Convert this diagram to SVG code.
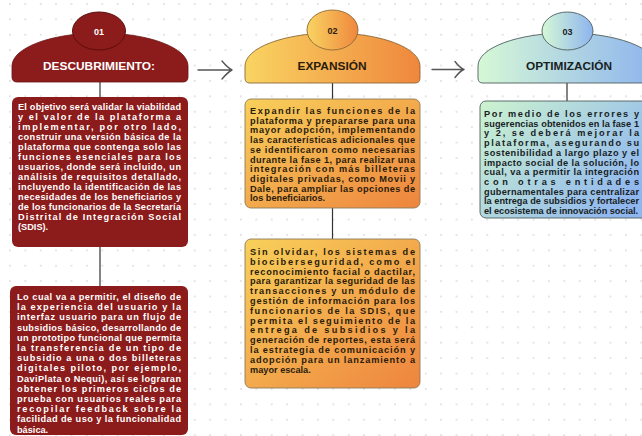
<svg xmlns="http://www.w3.org/2000/svg" width="642" height="436" viewBox="0 0 642 436">
<defs>
<pattern id="dots" x="9" y="3" width="15.4" height="15.4" patternUnits="userSpaceOnUse">
<circle cx="0.9" cy="0.9" r="0.9" fill="#d6d6d6"/>
</pattern>
<linearGradient id="gOr" x1="0" y1="0" x2="1" y2="0">
<stop offset="0" stop-color="#f9d462"/>
<stop offset="1" stop-color="#ef873d"/>
</linearGradient>
<linearGradient id="gOrBox" x1="0" y1="0" x2="1" y2="1">
<stop offset="0" stop-color="#f8d05a"/>
<stop offset="1" stop-color="#ee843e"/>
</linearGradient>
<linearGradient id="gBl" x1="0" y1="0" x2="1" y2="0">
<stop offset="0" stop-color="#d6f8d6"/>
<stop offset="1" stop-color="#8db4ee"/>
</linearGradient>
<linearGradient id="gBlBox" x1="0" y1="0" x2="1" y2="0.6">
<stop offset="0" stop-color="#cdf3cf"/>
<stop offset="1" stop-color="#8fb6ef"/>
</linearGradient>
</defs>
<style>
.t{font-family:"Liberation Sans",Arial,sans-serif;font-weight:bold;font-size:9.2px}
.w{fill:#ffffff}
.d{fill:#2a1c0c}
.g{fill:#18221f}
.h{font-family:"Liberation Sans",Arial,sans-serif;font-weight:bold;text-anchor:middle}
.con{stroke:#333333;stroke-width:1.2;fill:none}
.arr{stroke:#555555;stroke-width:1.4;fill:none;stroke-linecap:round;stroke-linejoin:round}
</style>
<rect width="642" height="436" fill="#ffffff"/>
<rect width="642" height="436" fill="url(#dots)"/>

<g id="connectors">
<line class="con" x1="100" y1="82" x2="100" y2="97"/>
<line class="con" x1="100" y1="247" x2="100" y2="286"/>
<line class="con" x1="332.5" y1="83" x2="332.5" y2="99"/>
<line class="con" x1="332.5" y1="208" x2="332.5" y2="239"/>
<line class="con" x1="567" y1="83" x2="567" y2="101"/>
<path class="arr" d="M198,70 L232,70 M222,61 Q228,68 232,70 Q228,72 222,79"/>
<path class="arr" d="M432,69.5 L464,69.5 M455,61.5 Q460,68 464,69.5 Q460,71 455,77.5"/>
</g>

<g id="header1">
<path d="M12,66 A88,33 0 0 1 188,66 L188,77 Q188,82 183,82 L17,82 Q12,82 12,77 Z" fill="#8c1b1b" stroke="#6a1212" stroke-width="0.8"/>
<ellipse cx="99" cy="31" rx="26.5" ry="19" fill="#8c1b1b" stroke="#5c0d0d" stroke-width="1"/>
<text class="h w" x="99" y="34.5" font-size="9">01</text>
<text class="h w" x="99" y="69.5" font-size="10.5" textLength="112" lengthAdjust="spacingAndGlyphs">DESCUBRIMIENTO:</text>
</g>

<g id="header2">
<path d="M245,66 A87.5,33 0 0 1 420,66 L420,78 Q420,83 415,83 L250,83 Q245,83 245,78 Z" fill="url(#gOr)" stroke="#8c6a36" stroke-width="0.9"/>
<ellipse cx="332.5" cy="30" rx="25.5" ry="20" fill="url(#gOr)" stroke="#8c6a36" stroke-width="0.9"/>
<text class="h d" x="332.5" y="33.5" font-size="9">02</text>
<text class="h d" x="332" y="69.5" font-size="10" textLength="69" lengthAdjust="spacingAndGlyphs">EXPANSIÓN</text>
</g>

<g id="header3">
<path d="M478,66 A89,33 0 0 1 656,66 L656,78 Q656,83 651,83 L483,83 Q478,83 478,78 Z" fill="url(#gBl)" stroke="#4e5e5e" stroke-width="0.9"/>
<ellipse cx="567.5" cy="31" rx="25.5" ry="19" fill="url(#gBl)" stroke="#4e5e5e" stroke-width="0.9"/>
<text class="h g" x="567.5" y="34.5" font-size="9">03</text>
<text class="h g" x="569" y="69.5" font-size="10" textLength="86" lengthAdjust="spacingAndGlyphs">OPTIMIZACIÓN</text>
</g>

<g id="box1">
<rect x="12" y="97" width="176" height="150" rx="6" fill="#8c1b1b"/>
<text class="t w">
<tspan x="18" y="110" textLength="163" lengthAdjust="spacing">El objetivo será validar la viabilidad</tspan>
<tspan x="18" y="120" textLength="163" lengthAdjust="spacing">y el valor de la plataforma a</tspan>
<tspan x="18" y="130" textLength="163" lengthAdjust="spacing">implementar, por otro lado,</tspan>
<tspan x="18" y="140" textLength="163" lengthAdjust="spacing">construir una versión básica de la</tspan>
<tspan x="18" y="150" textLength="163" lengthAdjust="spacing">plataforma que contenga solo las</tspan>
<tspan x="18" y="160" textLength="163" lengthAdjust="spacing">funciones esenciales para los</tspan>
<tspan x="18" y="170" textLength="163" lengthAdjust="spacing">usuarios, donde será incluido, un</tspan>
<tspan x="18" y="180" textLength="163" lengthAdjust="spacing">análisis de requisitos detallado,</tspan>
<tspan x="18" y="190" textLength="163" lengthAdjust="spacing">incluyendo la identificación de las</tspan>
<tspan x="18" y="200" textLength="163" lengthAdjust="spacing">necesidades de los beneficiarios y</tspan>
<tspan x="18" y="210" textLength="163" lengthAdjust="spacing">de los funcionarios de la Secretaría</tspan>
<tspan x="18" y="220" textLength="163" lengthAdjust="spacing">Distrital de Integración Social</tspan>
<tspan x="18" y="230">(SDIS).</tspan>
</text>
</g>

<g id="box2">
<rect x="10" y="286" width="178" height="149" rx="6" fill="#8c1b1b"/>
<text class="t w">
<tspan x="17" y="300" textLength="164" lengthAdjust="spacing">Lo cual va a permitir, el diseño de</tspan>
<tspan x="17" y="310.2" textLength="164" lengthAdjust="spacing">la experiencia del usuario y la</tspan>
<tspan x="17" y="320.4" textLength="164" lengthAdjust="spacing">interfaz usuario para un flujo de</tspan>
<tspan x="17" y="330.6" textLength="164" lengthAdjust="spacing">subsidios básico, desarrollando de</tspan>
<tspan x="17" y="340.8" textLength="164" lengthAdjust="spacing">un prototipo funcional que permita</tspan>
<tspan x="17" y="351" textLength="164" lengthAdjust="spacing">la transferencia de un tipo de</tspan>
<tspan x="17" y="361.2" textLength="164" lengthAdjust="spacing">subsidio a una o dos billeteras</tspan>
<tspan x="17" y="371.4" textLength="164" lengthAdjust="spacing">digitales piloto, por ejemplo,</tspan>
<tspan x="17" y="381.6" textLength="164" lengthAdjust="spacing">DaviPlata o Nequi), así se lograran</tspan>
<tspan x="17" y="391.8" textLength="164" lengthAdjust="spacing">obtener los primeros ciclos de</tspan>
<tspan x="17" y="402" textLength="164" lengthAdjust="spacing">prueba con usuarios reales para</tspan>
<tspan x="17" y="412.2" textLength="164" lengthAdjust="spacing">recopilar feedback sobre la</tspan>
<tspan x="17" y="422.4" textLength="164" lengthAdjust="spacing">facilidad de uso y la funcionalidad</tspan>
<tspan x="17" y="432.6">básica.</tspan>
</text>
</g>

<g id="box3">
<rect x="245" y="99" width="175" height="109" rx="6" fill="url(#gOrBox)" stroke="#8c7a5a" stroke-width="0.9"/>
<text class="t d">
<tspan x="250" y="114" textLength="165" lengthAdjust="spacing">Expandir las funciones de la</tspan>
<tspan x="250" y="123.7" textLength="165" lengthAdjust="spacing">plataforma y prepararse para una</tspan>
<tspan x="250" y="133.4" textLength="165" lengthAdjust="spacing">mayor adopción, implementando</tspan>
<tspan x="250" y="143.1" textLength="165" lengthAdjust="spacing">las características adicionales que</tspan>
<tspan x="250" y="152.8" textLength="165" lengthAdjust="spacing">se identificaron como necesarias</tspan>
<tspan x="250" y="162.5" textLength="165" lengthAdjust="spacing">durante la fase 1, para realizar una</tspan>
<tspan x="250" y="172.2" textLength="165" lengthAdjust="spacing">integración con más billeteras</tspan>
<tspan x="250" y="181.9" textLength="165" lengthAdjust="spacing">digitales privadas, como Movii y</tspan>
<tspan x="250" y="191.6" textLength="165" lengthAdjust="spacing">Dale, para ampliar las opciones de</tspan>
<tspan x="250" y="201.3">los beneficiarios.</tspan>
</text>
</g>

<g id="box4">
<rect x="245" y="239" width="175" height="149" rx="6" fill="url(#gOrBox)" stroke="#8c7a5a" stroke-width="0.9"/>
<text class="t d">
<tspan x="250" y="255" textLength="165" lengthAdjust="spacing">Sin olvidar, los sistemas de</tspan>
<tspan x="250" y="264.8" textLength="165" lengthAdjust="spacing">biociberseguridad, como el</tspan>
<tspan x="250" y="274.6" textLength="165" lengthAdjust="spacing">reconocimiento facial o dactilar,</tspan>
<tspan x="250" y="284.4" textLength="165" lengthAdjust="spacing">para garantizar la seguridad de las</tspan>
<tspan x="250" y="294.2" textLength="165" lengthAdjust="spacing">transacciones y un módulo de</tspan>
<tspan x="250" y="304" textLength="165" lengthAdjust="spacing">gestión de información para los</tspan>
<tspan x="250" y="313.8" textLength="165" lengthAdjust="spacing">funcionarios de la SDIS, que</tspan>
<tspan x="250" y="323.6" textLength="165" lengthAdjust="spacing">permita el seguimiento de la</tspan>
<tspan x="250" y="333.4" textLength="165" lengthAdjust="spacing">entrega de subsidios y la</tspan>
<tspan x="250" y="343.2" textLength="165" lengthAdjust="spacing">generación de reportes, esta será</tspan>
<tspan x="250" y="353" textLength="165" lengthAdjust="spacing">la estrategia de comunicación y</tspan>
<tspan x="250" y="362.8" textLength="165" lengthAdjust="spacing">adopción para un lanzamiento a</tspan>
<tspan x="250" y="372.6">mayor escala.</tspan>
</text>
</g>

<g id="box5">
<rect x="480" y="101" width="176" height="117" rx="6" fill="url(#gBlBox)" stroke="#4e5e5e" stroke-width="0.9"/>
<text class="t g">
<tspan x="484" y="117" textLength="155" lengthAdjust="spacing">Por medio de los errores y</tspan>
<tspan x="484" y="126.7" textLength="155" lengthAdjust="spacing">sugerencias obtenidos en la fase 1</tspan>
<tspan x="484" y="136.4" textLength="155" lengthAdjust="spacing">y 2, se deberá mejorar la</tspan>
<tspan x="484" y="146.1" textLength="155" lengthAdjust="spacing">plataforma, asegurando su</tspan>
<tspan x="484" y="155.8" textLength="155" lengthAdjust="spacing">sostenibilidad a largo plazo y el</tspan>
<tspan x="484" y="165.5" textLength="155" lengthAdjust="spacing">impacto social de la solución, lo</tspan>
<tspan x="484" y="175.2" textLength="155" lengthAdjust="spacing">cual, va a permitir la integración</tspan>
<tspan x="484" y="184.9" textLength="155" lengthAdjust="spacing">con otras entidades</tspan>
<tspan x="484" y="194.6" textLength="155" lengthAdjust="spacing">gubernamentales para centralizar</tspan>
<tspan x="484" y="204.3" textLength="155" lengthAdjust="spacing">la entrega de subsidios y fortalecer</tspan>
<tspan x="484" y="214" textLength="154" lengthAdjust="spacing">el ecosistema de innovación social.</tspan>
</text>
</g>
</svg>
